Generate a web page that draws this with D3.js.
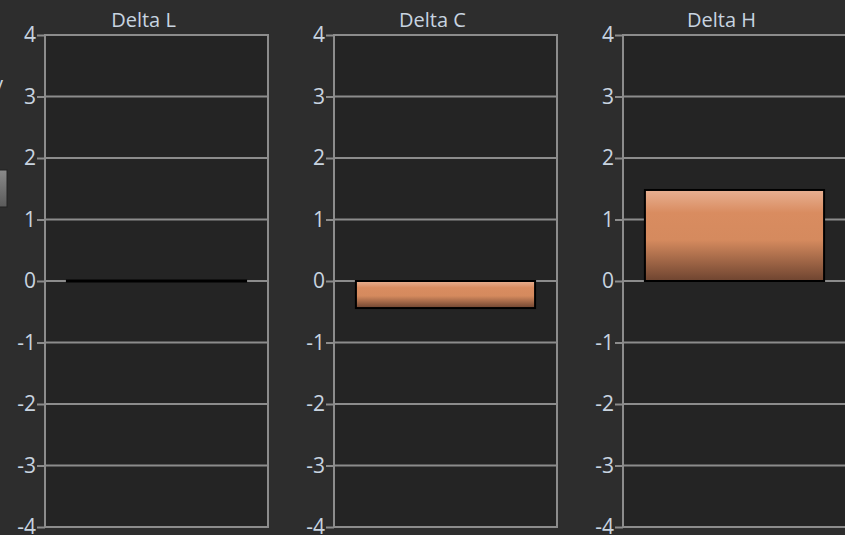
<!DOCTYPE html>
<html>
<head>
<meta charset="utf-8">
<script src="https://cdn.jsdelivr.net/npm/d3@7"></script>
<style>
  html, body { margin: 0; padding: 0; background: #2d2d2d; overflow: hidden; }
  svg { display: block; }
</style>
</head>
<body>
<svg id="chart"></svg>
<script>
const panels = ['Delta L', 'Delta C', 'Delta H'];
const values = [0, -0.44, 1.48];
const tickValues = [-4, -3, -2, -1, 0, 1, 2, 3, 4];

const W = 845, H = 535;
const svg = d3.select('#chart').attr('width', W).attr('height', H);

// gradient for the bars
const defs = svg.append('defs');
const grad = defs.append('linearGradient').attr('id', 'barGrad')
  .attr('x1', 0).attr('y1', 0).attr('x2', 0).attr('y2', 1);
grad.append('stop').attr('offset', '0%').attr('stop-color', '#e8b092');
grad.append('stop').attr('offset', '25%').attr('stop-color', '#d98c60');
grad.append('stop').attr('offset', '55%').attr('stop-color', '#d58a5e');
grad.append('stop').attr('offset', '100%').attr('stop-color', '#6e4430');

const btnGrad = defs.append('linearGradient').attr('id', 'btnGrad')
  .attr('x1', 0).attr('y1', 0).attr('x2', 0).attr('y2', 1);
btnGrad.append('stop').attr('offset', '0%').attr('stop-color', '#8a8a8a');
btnGrad.append('stop').attr('offset', '100%').attr('stop-color', '#5a5a5a');

// cut-off bits of the surrounding ui on the left edge
svg.append('text').attr('x', -7).attr('y', 91)
  .attr('font-family', 'Open Sans, sans-serif').attr('font-size', 20)
  .attr('fill', '#c8d4e0').text('y');
svg.append('rect').attr('x', -4).attr('y', 170).attr('width', 11).attr('height', 37)
  .attr('fill', 'url(#btnGrad)').attr('stroke', '#222').attr('stroke-width', 1);

const panelW = 223, plotTop = 35, plotBottom = 527;
const px = d3.scaleLinear().domain([0, 1]).range([45, 334]);

const y = d3.scaleLinear().domain([-4, 4]).range([plotBottom, plotTop]);
const xb = d3.scaleBand().domain([0]).range([0, panelW]).padding(0.109);

panels.forEach((name, i) => {
  const g = svg.append('g').attr('transform', `translate(${Math.round(px(i))},0)`);

  g.append('rect').attr('x', 0).attr('y', plotTop)
    .attr('width', panelW).attr('height', plotBottom - plotTop)
    .attr('fill', '#242424');

  // grid lines
  g.selectAll('line.grid').data(tickValues).enter().append('line')
    .attr('class', 'grid')
    .attr('x1', 0).attr('x2', panelW)
    .attr('y1', d => y(d)).attr('y2', d => y(d))
    .attr('stroke', '#8c8c8c').attr('stroke-width', 2);

  // axis
  const axis = g.append('g')
    .call(d3.axisLeft(y).tickValues(tickValues).tickSize(8).tickPadding(1).tickFormat(d => String(d)));
  axis.select('.domain').remove();
  axis.selectAll('line').attr('stroke', '#8c8c8c').attr('stroke-width', 2);
  axis.selectAll('text')
    .attr('fill', '#c8d4e0')
    .attr('font-family', 'Open Sans, sans-serif')
    .attr('font-size', 21);

  // border
  g.append('rect').attr('x', 0).attr('y', plotTop)
    .attr('width', panelW).attr('height', plotBottom - plotTop)
    .attr('fill', 'none').attr('stroke', '#8c8c8c').attr('stroke-width', 2);

  // bar (a zero bar still shows as a thin black line)
  const v = values[i];
  const h = Math.abs(y(v) - y(0));
  g.append('rect')
    .attr('x', xb(0)).attr('width', xb.bandwidth())
    .attr('y', h < 1 ? y(0) - 0.5 : y(Math.max(0, v)))
    .attr('height', Math.max(h, 1))
    .attr('fill', 'url(#barGrad)')
    .attr('stroke', '#000').attr('stroke-width', 2);

  // title
  g.append('text')
    .attr('x', panelW / 2 - 13).attr('y', 27)
    .attr('text-anchor', 'middle')
    .attr('fill', '#c8d4e0')
    .attr('font-family', 'Open Sans, sans-serif')
    .attr('font-size', 20)
    .text(name);
});
</script>
</body>
</html>
